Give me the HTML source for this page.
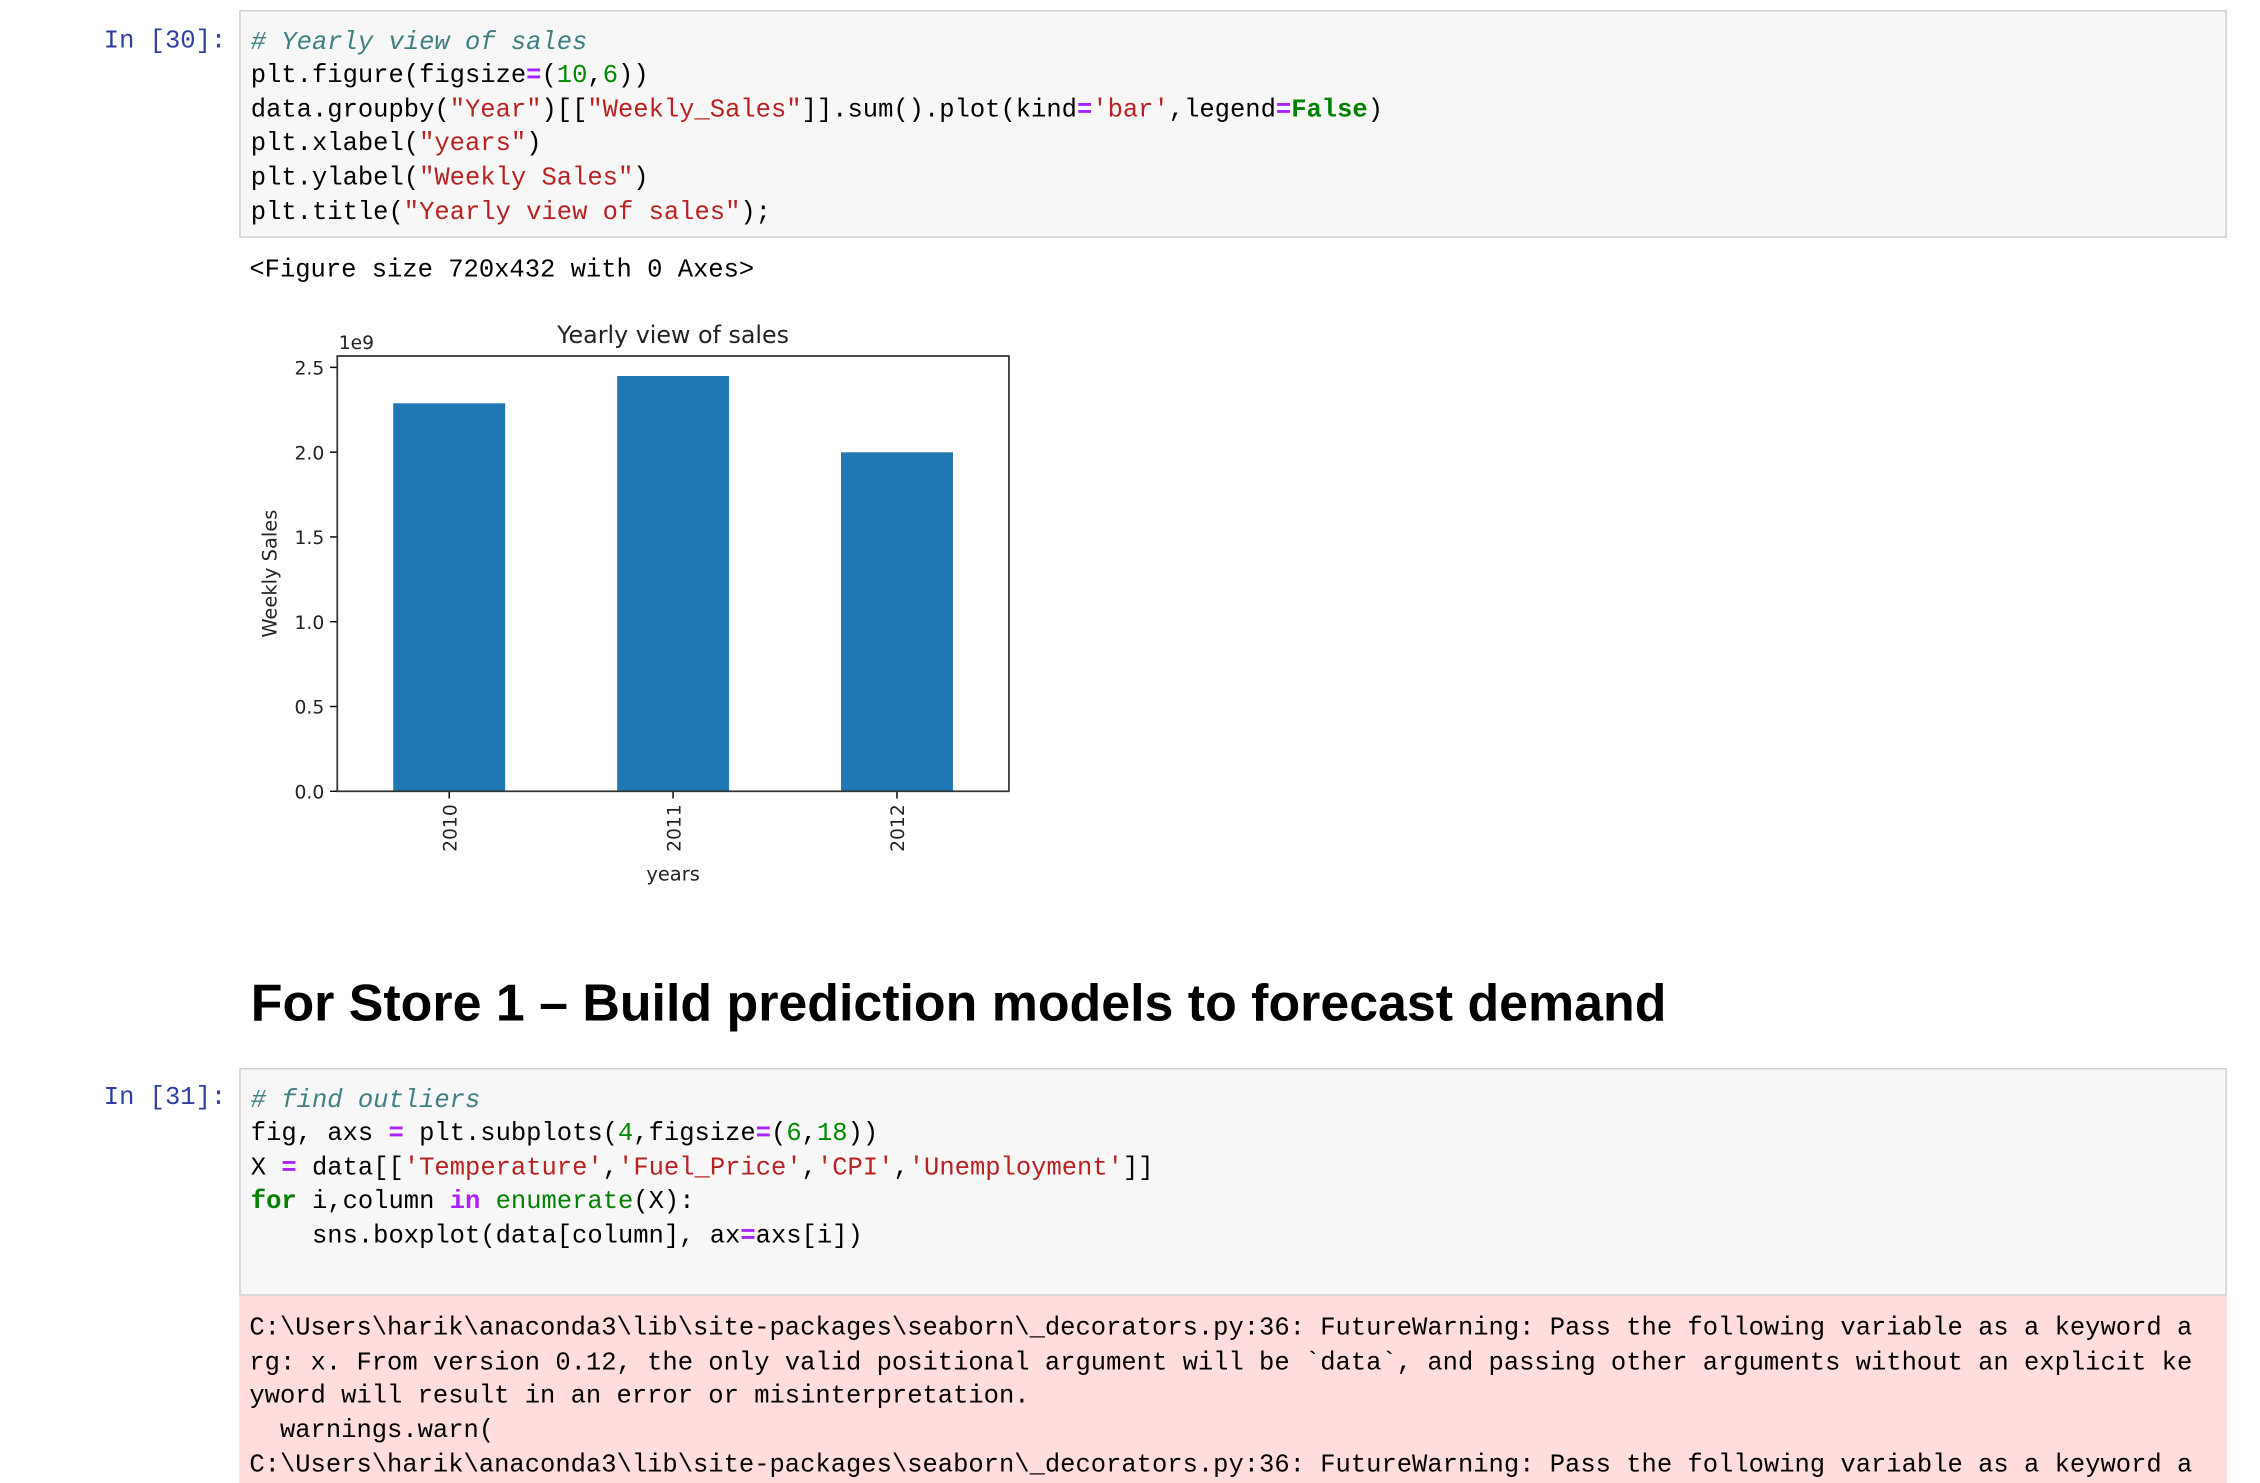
<!DOCTYPE html>
<html><head><meta charset="utf-8">
<style>
html,body{margin:0;padding:0;background:#fff;overflow:hidden}
#wrap{position:absolute;left:0;top:0;width:1568px;height:1014px;transform:scale(1.44133);transform-origin:0 0;font-family:"Liberation Sans",sans-serif}
.prompt{position:absolute;left:72px;font-family:"Liberation Mono",monospace;font-size:17.7px;color:#303F9F}
.code{position:absolute;left:166px;width:1379px;background:#f7f7f7;border:1px solid #cfcfcf;box-sizing:border-box}
.ln{position:absolute;left:7px;font-family:"Liberation Mono",monospace;font-size:17.7px;white-space:pre;color:#000;line-height:20px}
.c{color:#408080;font-style:italic}.s{color:#BA2121}.n{color:#080}.k{color:#008000;font-weight:bold}.o{color:#AA22FF;font-weight:bold}
.out{position:absolute;left:173px;font-family:"Liberation Mono",monospace;font-size:17.7px;white-space:pre;line-height:20px}
</style></head><body>
<div id="wrap">
<div class="prompt" style="top:19px">In [30]:</div>
<div class="code" style="top:7px;height:158px">
<div class="ln" style="top:12px"><span class="c"># Yearly view of sales</span></div>
<div class="ln" style="top:35px">plt.figure(figsize<span class="o">=</span>(<span class="n">10</span>,<span class="n">6</span>))</div>
<div class="ln" style="top:59px">data.groupby(<span class="s">"Year"</span>)[[<span class="s">"Weekly_Sales"</span>]].sum().plot(kind<span class="o">=</span><span class="s">'bar'</span>,legend<span class="o">=</span><span class="k">False</span>)</div>
<div class="ln" style="top:82px">plt.xlabel(<span class="s">"years"</span>)</div>
<div class="ln" style="top:106px">plt.ylabel(<span class="s">"Weekly Sales"</span>)</div>
<div class="ln" style="top:130px">plt.title(<span class="s">"Yearly view of sales"</span>);</div>
</div>
<div class="out" style="top:178px">&lt;Figure size 720x432 with 0 Axes&gt;</div>

<svg id="chart" style="position:absolute;left:0;top:0" width="800" height="640" font-family="DejaVu Sans, sans-serif"></svg>

<div style="position:absolute;left:174px;top:675px;font-size:36px;font-weight:bold;color:#000;white-space:nowrap">For Store 1 – Build prediction models to forecast demand</div>

<div class="prompt" style="top:752px">In [31]:</div>
<div class="code" style="top:741px;height:158px">
<div class="ln" style="top:12px"><span class="c"># find outliers</span></div>
<div class="ln" style="top:35px">fig, axs <span class="o">=</span> plt.subplots(<span class="n">4</span>,figsize<span class="o">=</span>(<span class="n">6</span>,<span class="n">18</span>))</div>
<div class="ln" style="top:59px">X <span class="o">=</span> data[[<span class="s">'Temperature'</span>,<span class="s">'Fuel_Price'</span>,<span class="s">'CPI'</span>,<span class="s">'Unemployment'</span>]]</div>
<div class="ln" style="top:82px"><span class="k">for</span> i,column <span class="o">in</span> <span style="color:#008000">enumerate</span>(X):</div>
<div class="ln" style="top:106px">    sns.boxplot(data[column], ax<span class="o">=</span>axs[i])</div>
</div>
<div style="position:absolute;left:166px;top:899px;width:1379px;height:130px;background:#fdd">
<div class="ln" style="top:13px">C:\Users\harik\anaconda3\lib\site-packages\seaborn\_decorators.py:36: FutureWarning: Pass the following variable as a keyword a</div>
<div class="ln" style="top:37px">rg: x. From version 0.12, the only valid positional argument will be `data`, and passing other arguments without an explicit ke</div>
<div class="ln" style="top:60px">yword will result in an error or misinterpretation.</div>
<div class="ln" style="top:84px">  warnings.warn(</div>
<div class="ln" style="top:108px">C:\Users\harik\anaconda3\lib\site-packages\seaborn\_decorators.py:36: FutureWarning: Pass the following variable as a keyword a</div>
</div>
</div>
<script>
const years=["2010","2011","2012"];
const sales=[2.288,2.449,1.999];
const yTicks=[0,0.5,1.0,1.5,2.0,2.5];
const NS="http://www.w3.org/2000/svg";
const svg=document.getElementById('chart');
const X0=234,X1=700,Y0=549,Y1=247,yMax=2.567;
const ys=v=>Y0-(v/yMax)*(Y0-Y1);
const step=(X1-X0)/years.length;
const xs=i=>X0+step*(i+0.5);
function mk(t,a,txt){const e=document.createElementNS(NS,t);for(const k in a)e.setAttribute(k,a[k]);if(txt!=null)e.textContent=txt;svg.appendChild(e);return e;}
sales.forEach((v,i)=>{const w=step*0.5;
const b=mk('rect',{x:xs(i)-w/2,y:ys(v),width:w,height:Y0-ys(v),fill:'#1f77b4'});


mk('line',{x1:xs(i),x2:xs(i),y1:Y0,y2:Y0+5,stroke:'#000','stroke-width':1});
const tl=mk('text',{x:0,y:0,'font-size':13,fill:'#222','text-anchor':'end',transform:`translate(${xs(i)+5},${Y0+9}) rotate(-90)`},years[i]);


});
yTicks.forEach(t=>{
mk('line',{x1:X0-5,x2:X0,y1:ys(t),y2:ys(t),stroke:'#000','stroke-width':1});
const l=mk('text',{x:X0-9,y:ys(t)+5,'font-size':13,fill:'#222','text-anchor':'end'},t.toFixed(1));


});
const fr=mk('rect',{x:X0,y:Y1,width:X1-X0,height:Y0-Y1,fill:'none',stroke:'#333','stroke-width':1.2});


const ti=mk('text',{x:(X0+X1)/2,y:Y1-9,'font-size':16.5,fill:'#222','text-anchor':'middle'},'Yearly view of sales');


const ex=mk('text',{x:X0+1,y:Y1-5,'font-size':13,fill:'#222'},'1e9');


const yl=mk('text',{x:0,y:0,'font-size':13.5,fill:'#222','text-anchor':'middle',transform:`translate(192,${(Y0+Y1)/2}) rotate(-90)`},'Weekly Sales');


const xl=mk('text',{x:(X0+X1)/2,y:611,'font-size':13.5,fill:'#222','text-anchor':'middle'},'years');


</script>
</body></html>
